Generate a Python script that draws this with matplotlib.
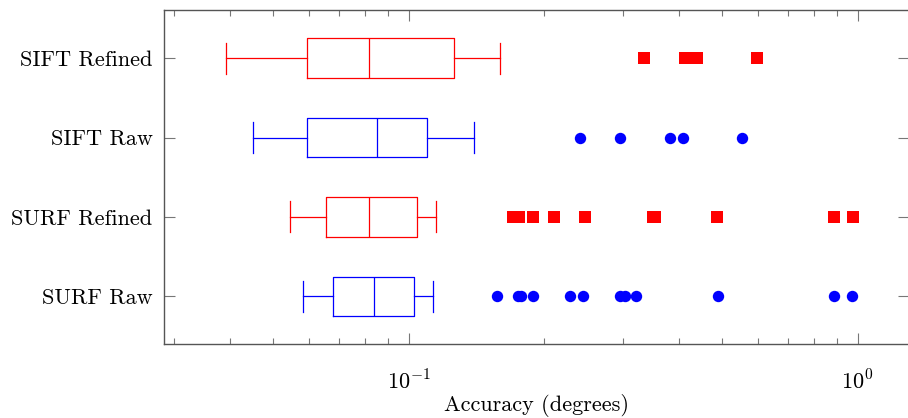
import numpy as np
import matplotlib
matplotlib.use("Agg")
import matplotlib.pyplot as plt
from matplotlib.ticker import LogLocator, FuncFormatter, NullFormatter

plt.rcParams["font.family"] = ["cmr10", "DejaVu Serif"]
plt.rcParams["mathtext.fontset"] = "cm"
plt.rcParams["axes.unicode_minus"] = False

labels = ["SURF Raw", "SURF Refined", "SIFT Raw", "SIFT Refined"]
colors = ["#0000ff", "#ff0000", "#0000ff", "#ff0000"]
markers = ["o", "s", "o", "s"]

# whislo, q1, median, q3, whishi
whislo = [0.0582, 0.0544, 0.0450, 0.0392]
q1 = [0.0677, 0.0655, 0.0593, 0.0593]
med = [0.0838, 0.0815, 0.0849, 0.0815]
q3 = [0.1029, 0.1043, 0.1099, 0.1264]
whishi = [0.1131, 0.1152, 0.1400, 0.1595]

surf_raw_out = [0.1575, 0.1753, 0.1779, 0.1888, 0.2291, 0.2447, 0.2958, 0.3039, 0.3215, 0.4878, 0.8878, 0.9712]
surf_ref_out = [0.1711, 0.1762, 0.1891, 0.2109, 0.2469, 0.3499, 0.3542, 0.4859, 0.8855, 0.9766]
sift_raw_out = [0.2409, 0.2963, 0.3817, 0.4093, 0.5532]
sift_ref_out = [0.334, 0.4133, 0.4390, 0.5973]
outliers = [surf_raw_out, surf_ref_out, sift_raw_out, sift_ref_out]

fig = plt.figure(figsize=(9.08, 4.18), dpi=100)
ax = fig.add_axes([0.1803, 0.177, 0.8205, 0.798])

for i in range(4):
    stats = [dict(whislo=whislo[i], q1=q1[i], med=med[i], q3=q3[i], whishi=whishi[i],
                  fliers=outliers[i], label=labels[i])]
    c = colors[i]
    ax.bxp(stats, positions=[i + 1], widths=0.5, capwidths=0.39, vert=False,
           boxprops=dict(color=c, linewidth=0.9),
           medianprops=dict(color=c, linewidth=0.9),
           whiskerprops=dict(color=c, linewidth=0.9),
           capprops=dict(color=c, linewidth=0.9),
           flierprops=dict(marker=markers[i], markerfacecolor=c, markeredgecolor=c,
                           markersize=8.2, markeredgewidth=0, linestyle="none"))

ax.set_xscale("log")
ax.set_xlim(0.02848, 1.30)
ax.set_ylim(0.4, 4.6)
ax.set_yticks([1, 2, 3, 4])
ax.set_yticklabels(labels, fontsize=16)

ax.xaxis.set_major_locator(LogLocator(base=10, numticks=10))
ax.xaxis.set_minor_locator(LogLocator(base=10, subs=np.arange(2, 10), numticks=10))
ax.xaxis.set_major_formatter(FuncFormatter(lambda v, p: r"$10^{%d}$" % round(np.log10(v))))
ax.xaxis.set_minor_formatter(NullFormatter())
for lab in ax.get_xticklabels():
    lab.set_fontsize(16)

ax.tick_params(axis="both", which="major", direction="in", length=8, width=0.8,
               color="#777777", top=True, right=True, pad=8)
ax.tick_params(axis="x", which="minor", direction="in", length=4.5, width=0.8,
               color="#777777", top=True)
ax.tick_params(axis="x", which="major", pad=18)

for s in ax.spines.values():
    s.set_color("#555555")
    s.set_linewidth(1.0)

ax.set_xlabel("Accuracy (degrees)", fontsize=16, labelpad=1)

fig.savefig("out.png", dpi=100)
